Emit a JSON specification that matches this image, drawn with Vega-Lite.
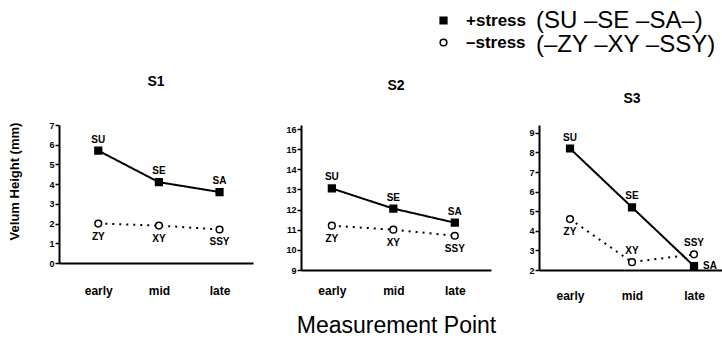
{
  "$schema": "https://vega.github.io/schema/vega-lite/v6.json",
  "padding": {"left": 8, "top": 10, "right": 0, "bottom": 0},
  "background": "white",
  "datasets": {
    "d": [
      {"panel": "S1", "point": "early", "stress": "+stress", "members": "(SU –SE –SA–)", "label": "SU", "value": 5.7},
      {"panel": "S1", "point": "mid", "stress": "+stress", "members": "(SU –SE –SA–)", "label": "SE", "value": 4.1},
      {"panel": "S1", "point": "late", "stress": "+stress", "members": "(SU –SE –SA–)", "label": "SA", "value": 3.6},
      {"panel": "S1", "point": "early", "stress": "–stress", "members": "(–ZY –XY –SSY)", "label": "ZY", "value": 2.0},
      {"panel": "S1", "point": "mid", "stress": "–stress", "members": "(–ZY –XY –SSY)", "label": "XY", "value": 1.9},
      {"panel": "S1", "point": "late", "stress": "–stress", "members": "(–ZY –XY –SSY)", "label": "SSY", "value": 1.7},
      {"panel": "S2", "point": "early", "stress": "+stress", "members": "(SU –SE –SA–)", "label": "SU", "value": 13.05},
      {"panel": "S2", "point": "mid", "stress": "+stress", "members": "(SU –SE –SA–)", "label": "SE", "value": 12.05},
      {"panel": "S2", "point": "late", "stress": "+stress", "members": "(SU –SE –SA–)", "label": "SA", "value": 11.35},
      {"panel": "S2", "point": "early", "stress": "–stress", "members": "(–ZY –XY –SSY)", "label": "ZY", "value": 11.2},
      {"panel": "S2", "point": "mid", "stress": "–stress", "members": "(–ZY –XY –SSY)", "label": "XY", "value": 11.0},
      {"panel": "S2", "point": "late", "stress": "–stress", "members": "(–ZY –XY –SSY)", "label": "SSY", "value": 10.7},
      {"panel": "S3", "point": "early", "stress": "+stress", "members": "(SU –SE –SA–)", "label": "SU", "value": 8.2},
      {"panel": "S3", "point": "mid", "stress": "+stress", "members": "(SU –SE –SA–)", "label": "SE", "value": 5.2},
      {"panel": "S3", "point": "late", "stress": "+stress", "members": "(SU –SE –SA–)", "label": "SA", "value": 2.2},
      {"panel": "S3", "point": "early", "stress": "–stress", "members": "(–ZY –XY –SSY)", "label": "ZY", "value": 4.6},
      {"panel": "S3", "point": "mid", "stress": "–stress", "members": "(–ZY –XY –SSY)", "label": "XY", "value": 2.4},
      {"panel": "S3", "point": "late", "stress": "–stress", "members": "(–ZY –XY –SSY)", "label": "SSY", "value": 2.8}
    ]
  },
  "data": {"name": "d"},
  "spacing": 32,
  "align": "none",
  "config": {
    "font": "Liberation Sans",
    "view": {"stroke": null},
    "axis": {"grid": false, "domainColor": "black", "domainWidth": 2, "tickColor": "black", "labelColor": "black", "titleColor": "black", "labelFontWeight": "bold", "labelFont": "Liberation Sans"},
    "axisY": {"tickSize": 4, "tickWidth": 1.5, "labelFontSize": 9, "labelPadding": 1},
    "axisX": {"ticks": false, "labelFontSize": 12, "labelAngle": 0},
    "title": {"fontSize": 14, "fontWeight": "bold", "color": "black", "anchor": "middle"},
    "legend": {"title": null, "labelLimit": 400}
  },
  "hconcat": [
    {
      "width": 194, "height": 138,
      "title": {"text": "S1", "offset": 32},
      "transform": [{"filter": "datum.panel == 'S1'"}],
      "encoding": {
        "x": {"field": "point", "type": "ordinal", "sort": ["early", "mid", "late"], "scale": {"type": "point", "padding": 0.6, "align": 0.54}, "axis": {"title": null, "labelPadding": 22}},
        "y": {"field": "value", "type": "quantitative", "scale": {"domain": [0, 7], "nice": false, "zero": false}, "axis": {"values": [0, 1, 2, 3, 4, 5, 6, 7], "title": "Velum Height (mm)", "titleFontSize": 13, "titleFontWeight": "bold", "titlePadding": 27, "titleY": 56}}
      },
      "layer": [
        {"mark": {"type": "line", "color": "black", "strokeWidth": 2},
         "encoding": {"strokeDash": {"field": "members", "type": "nominal", "scale": {"domain": ["(SU –SE –SA–)", "(–ZY –XY –SSY)"], "range": [[1, 0], [2, 5]]},
           "legend": {"orient": "none", "legendX": 453, "legendY": -115, "labelFontSize": 24, "labelFontWeight": "normal", "labelLimit": 400, "symbolOpacity": 0, "symbolStrokeWidth": 0, "symbolSize": 1, "labelOffset": 0, "rowPadding": 0, "clipHeight": 22}}}},
        {"mark": {"type": "point", "opacity": 1, "strokeWidth": 1.5, "size": 45},
         "encoding": {
           "shape": {"field": "stress", "type": "nominal", "scale": {"domain": ["+stress", "–stress"], "range": ["square", "circle"]},
             "legend": {"orient": "none", "legendX": 376, "legendY": -113, "labelFontSize": 17, "labelFontWeight": "bold", "symbolSize": 45, "symbolStrokeWidth": 1.5, "labelOffset": 14, "rowPadding": 4}},
           "fill": {"field": "stress", "type": "nominal", "scale": {"domain": ["+stress", "–stress"], "range": ["black", "white"]}},
           "color": {"field": "stress", "type": "nominal", "scale": {"domain": ["+stress", "–stress"], "range": ["black", "black"]}}
         }},
        {"transform": [{"filter": "datum.stress == '+stress'"}],
         "mark": {"type": "text", "dy": -11, "fontSize": 10, "fontWeight": "bold", "color": "black"}, "encoding": {"text": {"field": "label"}}},
        {"transform": [{"filter": "datum.stress == '–stress'"}],
         "mark": {"type": "text", "dy": 13, "fontSize": 10, "fontWeight": "bold", "color": "black"}, "encoding": {"text": {"field": "label"}}}
      ]
    },
    {
      "width": 190, "height": 145,
      "title": {"text": "S2", "offset": 32},
      "transform": [{"filter": "datum.panel == 'S2'"}],
      "encoding": {
        "x": {"field": "point", "type": "ordinal", "sort": ["early", "mid", "late"], "scale": {"type": "point", "padding": 0.545, "align": 0.46}, "axis": {"title": "Measurement Point", "titleFontSize": 23, "titleFontWeight": "normal", "titlePadding": 18, "labelPadding": 15}},
        "y": {"field": "value", "type": "quantitative", "scale": {"domain": [9, 16.2], "nice": false, "zero": false}, "axis": {"values": [9, 10, 11, 12, 13, 14, 15, 16], "title": null}}
      },
      "layer": [
        {"mark": {"type": "line", "color": "black", "strokeWidth": 2},
         "encoding": {"strokeDash": {"field": "members", "type": "nominal", "scale": {"domain": ["(SU –SE –SA–)", "(–ZY –XY –SSY)"], "range": [[1, 0], [2, 5]]},
           "legend": {"orient": "none", "legendX": 453, "legendY": -115, "labelFontSize": 24, "labelFontWeight": "normal", "labelLimit": 400, "symbolOpacity": 0, "symbolStrokeWidth": 0, "symbolSize": 1, "labelOffset": 0, "rowPadding": 0, "clipHeight": 22}}}},
        {"mark": {"type": "point", "opacity": 1, "strokeWidth": 1.5, "size": 45},
         "encoding": {
           "shape": {"field": "stress", "type": "nominal", "scale": {"domain": ["+stress", "–stress"], "range": ["square", "circle"]},
             "legend": {"orient": "none", "legendX": 376, "legendY": -113, "labelFontSize": 17, "labelFontWeight": "bold", "symbolSize": 45, "symbolStrokeWidth": 1.5, "labelOffset": 14, "rowPadding": 4}},
           "fill": {"field": "stress", "type": "nominal", "scale": {"domain": ["+stress", "–stress"], "range": ["black", "white"]}},
           "color": {"field": "stress", "type": "nominal", "scale": {"domain": ["+stress", "–stress"], "range": ["black", "black"]}}
         }},
        {"transform": [{"filter": "datum.stress == '+stress'"}],
         "mark": {"type": "text", "dy": -11, "fontSize": 10, "fontWeight": "bold", "color": "black"}, "encoding": {"text": {"field": "label"}}},
        {"transform": [{"filter": "datum.stress == '–stress'"}],
         "mark": {"type": "text", "dy": 13, "fontSize": 10, "fontWeight": "bold", "color": "black"}, "encoding": {"text": {"field": "label"}}}
      ]
    },
    {
      "width": 186, "height": 145,
      "title": {"text": "S3", "offset": 19},
      "transform": [{"filter": "datum.panel == 'S3'"}],
      "encoding": {
        "x": {"field": "point", "type": "ordinal", "sort": ["early", "mid", "late"], "scale": {"type": "point", "padding": 0.5}, "axis": {"title": null, "labelPadding": 20}},
        "y": {"field": "value", "type": "quantitative", "scale": {"domain": [2, 9.4], "nice": false, "zero": false}, "axis": {"values": [2, 3, 4, 5, 6, 7, 8, 9], "title": null}}
      },
      "layer": [
        {"mark": {"type": "line", "color": "black", "strokeWidth": 2},
         "encoding": {"strokeDash": {"field": "members", "type": "nominal", "scale": {"domain": ["(SU –SE –SA–)", "(–ZY –XY –SSY)"], "range": [[1, 0], [2, 5]]},
           "legend": {"orient": "none", "legendX": 453, "legendY": -115, "labelFontSize": 24, "labelFontWeight": "normal", "labelLimit": 400, "symbolOpacity": 0, "symbolStrokeWidth": 0, "symbolSize": 1, "labelOffset": 0, "rowPadding": 0, "clipHeight": 22}}}},
        {"mark": {"type": "point", "opacity": 1, "strokeWidth": 1.5, "size": 45},
         "encoding": {
           "shape": {"field": "stress", "type": "nominal", "scale": {"domain": ["+stress", "–stress"], "range": ["square", "circle"]},
             "legend": {"orient": "none", "legendX": 376, "legendY": -113, "labelFontSize": 17, "labelFontWeight": "bold", "symbolSize": 45, "symbolStrokeWidth": 1.5, "labelOffset": 14, "rowPadding": 4}},
           "fill": {"field": "stress", "type": "nominal", "scale": {"domain": ["+stress", "–stress"], "range": ["black", "white"]}},
           "color": {"field": "stress", "type": "nominal", "scale": {"domain": ["+stress", "–stress"], "range": ["black", "black"]}}
         }},
        {"transform": [{"filter": "(datum.stress == '+stress' && datum.label != 'SA') || datum.label == 'XY' || datum.label == 'SSY'"}],
         "mark": {"type": "text", "dy": -11, "fontSize": 10, "fontWeight": "bold", "color": "black"}, "encoding": {"text": {"field": "label"}}},
        {"transform": [{"filter": "datum.label == 'ZY'"}],
         "mark": {"type": "text", "dy": 13, "fontSize": 10, "fontWeight": "bold", "color": "black"}, "encoding": {"text": {"field": "label"}}},
        {"transform": [{"filter": "datum.label == 'SA'"}],
         "mark": {"type": "text", "dx": 9, "align": "left", "fontSize": 10, "fontWeight": "bold", "color": "black"}, "encoding": {"text": {"field": "label"}}}
      ]
    }
  ]
}
